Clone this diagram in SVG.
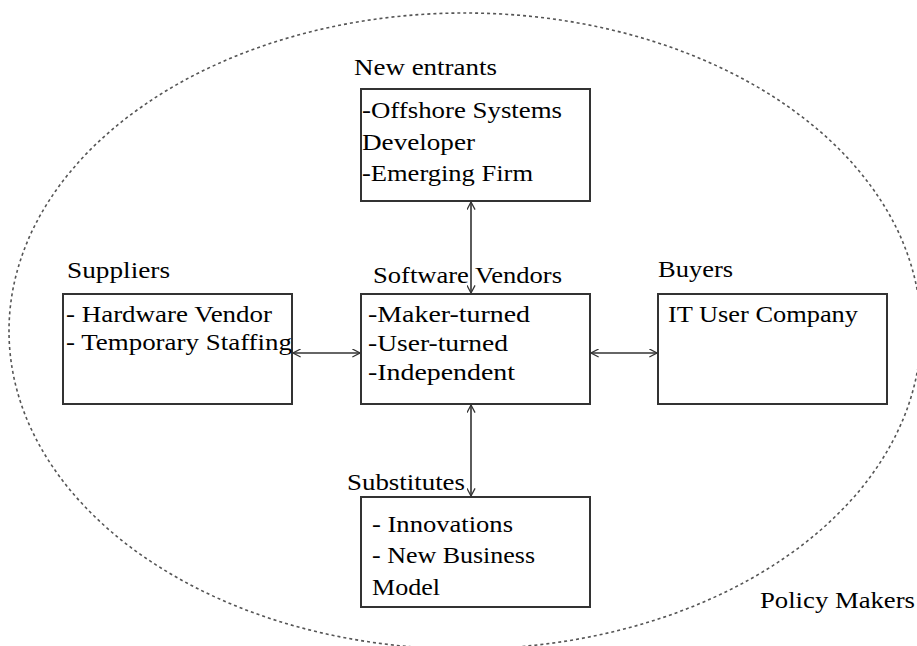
<svg xmlns="http://www.w3.org/2000/svg" width="917" height="646" viewBox="0 0 917 646">
  <defs>
    <style>
      .bg { fill: #ffffff; }
      .boundary { fill: none; stroke: #555; stroke-width: 1.6; stroke-dasharray: 3 3; }
      .box { fill: #ffffff; stroke: #333; stroke-width: 2; }
      .txt { font-size: 24px; fill: #000; }
      .link { fill: none; stroke: #333; stroke-width: 1.6; marker-start: url(#head); marker-end: url(#head); }
    </style>
    <marker id="head" viewBox="0 0 10 10" refX="9.5" refY="5" markerWidth="9" markerHeight="9" markerUnits="userSpaceOnUse" orient="auto-start-reverse">
      <path d="M1,0.5 L9.5,5 L1,9.5" fill="none" stroke="#333" stroke-width="1.4"/>
    </marker>
  </defs>

  <rect class="bg" x="0" y="0" width="917" height="646"/>

  <g font-family="'Liberation Serif', 'Times New Roman', Times, serif">
    <!-- outer environment boundary -->
    <g id="policy-makers">
      <ellipse class="boundary" cx="465" cy="331" rx="456" ry="318"/>
      <text class="txt" x="760" y="608" textLength="155" lengthAdjust="spacingAndGlyphs">Policy Makers</text>
    </g>

    <!-- connectors -->
    <g id="connectors">
      <line class="link" x1="471" y1="202" x2="471" y2="293"/>
      <line class="link" x1="293" y1="353" x2="360" y2="353"/>
      <line class="link" x1="591" y1="353" x2="657" y2="353"/>
      <line class="link" x1="471" y1="405" x2="471" y2="496"/>
    </g>

    <g id="new-entrants">
      <text class="txt" x="354" y="75" textLength="143" lengthAdjust="spacingAndGlyphs">New entrants</text>
      <rect class="box" x="361" y="89" width="229" height="112"/>
      <text class="txt" x="362" y="118" textLength="200" lengthAdjust="spacingAndGlyphs">-Offshore Systems</text>
      <text class="txt" x="362" y="150" textLength="113" lengthAdjust="spacingAndGlyphs">Developer</text>
      <text class="txt" x="362" y="181" textLength="171" lengthAdjust="spacingAndGlyphs">-Emerging Firm</text>
    </g>

    <g id="suppliers">
      <text class="txt" x="67" y="278" textLength="103" lengthAdjust="spacingAndGlyphs">Suppliers</text>
      <rect class="box" x="63" y="294" width="229" height="110"/>
      <text class="txt" x="66" y="322" textLength="206" lengthAdjust="spacingAndGlyphs">- Hardware Vendor</text>
      <text class="txt" x="66" y="350" textLength="226" lengthAdjust="spacingAndGlyphs">- Temporary Staffing</text>
    </g>

    <g id="software-vendors">
      <text class="txt" x="373" y="283" textLength="189" lengthAdjust="spacingAndGlyphs">Software Vendors</text>
      <rect class="box" x="361" y="294" width="229" height="110"/>
      <text class="txt" x="368" y="322" textLength="162" lengthAdjust="spacingAndGlyphs">-Maker-turned</text>
      <text class="txt" x="368" y="351" textLength="140" lengthAdjust="spacingAndGlyphs">-User-turned</text>
      <text class="txt" x="368" y="380" textLength="147" lengthAdjust="spacingAndGlyphs">-Independent</text>
    </g>

    <g id="buyers">
      <text class="txt" x="658" y="277" textLength="75" lengthAdjust="spacingAndGlyphs">Buyers</text>
      <rect class="box" x="658" y="294" width="229" height="110"/>
      <text class="txt" x="668" y="322" textLength="190" lengthAdjust="spacingAndGlyphs">IT User Company</text>
    </g>

    <g id="substitutes">
      <text class="txt" x="347" y="490" textLength="118" lengthAdjust="spacingAndGlyphs">Substitutes</text>
      <rect class="box" x="361" y="497" width="229" height="110"/>
      <text class="txt" x="372" y="532" textLength="141" lengthAdjust="spacingAndGlyphs">- Innovations</text>
      <text class="txt" x="372" y="563" textLength="163" lengthAdjust="spacingAndGlyphs">- New Business</text>
      <text class="txt" x="372" y="595" textLength="68" lengthAdjust="spacingAndGlyphs">Model</text>
    </g>
  </g>
</svg>
